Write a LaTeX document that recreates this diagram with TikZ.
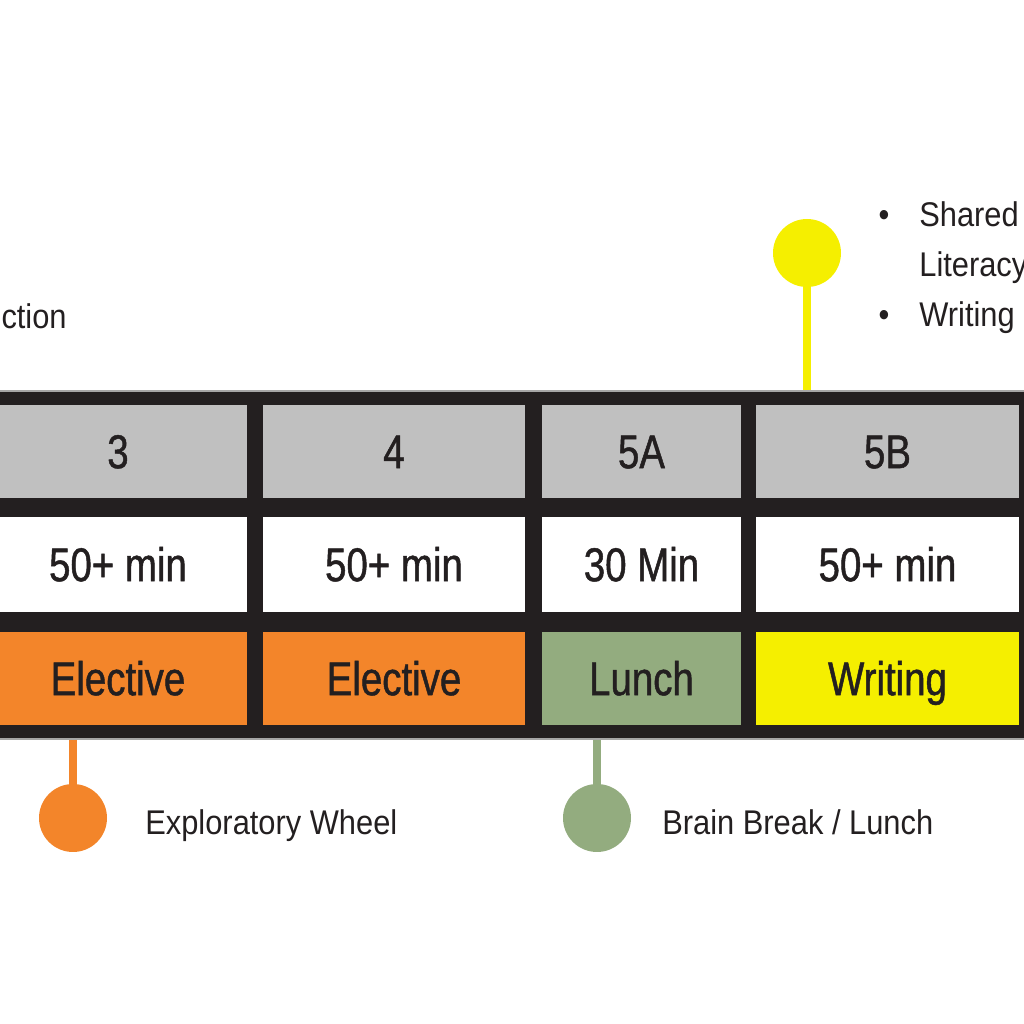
\documentclass[tikz,border=0pt]{standalone}
\usepackage{fontspec}
\setmainfont{Liberation Sans}[FakeStretch=0.81]
\newfontfamily\cellfont{Liberation Sans}[FakeStretch=0.81, FakeBold=1]
\newfontfamily\tagfont{Liberation Sans}[FakeStretch=0.9]
\usepackage{tikz}

\definecolor{ink}{HTML}{231F20}
\definecolor{cellgray}{HTML}{C0C0C0}
\definecolor{wheelorange}{HTML}{F3852A}
\definecolor{lunchgreen}{HTML}{93AC7F}
\definecolor{writeyellow}{HTML}{F5EF00}

\begin{document}
\begin{tikzpicture}
    \tikzset{
      band/.style={rectangle, fill=ink, draw=gray!70, line width=0.8pt,
        minimum width=21cm, minimum height=6.96cm, inner sep=0pt},
      cell/.style={rectangle, inner sep=0pt, text=ink, text height=19pt,
        text depth=0pt, font=\cellfont\fontsize{27}{30}\selectfont},
      hdr/.style={cell, fill=cellgray, minimum height=1.86cm},
      len/.style={cell, fill=white, minimum height=1.9cm},
      act/.style={cell, minimum height=1.86cm},
      pin/.style={circle, minimum size=1.36cm, inner sep=0pt},
      stem/.style={line width=4.5pt},
      tag/.style={anchor=base west, inner sep=0pt, text=ink,
        font=\tagfont\fontsize{19.5}{22}\selectfont}
    }

    \useasboundingbox (0,0) rectangle (20.48,20.48);
    \clip (0,0) rectangle (20.48,20.48);

    % Draw the dark band
    \node[band] (band) at (10.24,9.18) {};

    % Period numbers
    \node[hdr, minimum width=5.16cm] (h3) at (2.36,11.45) {3};
    \node[hdr, minimum width=5.24cm] (h4) at (7.88,11.45) {4};
    \node[hdr, minimum width=3.98cm] (h5a) at (12.83,11.45) {5A};
    \node[hdr, minimum width=5.26cm] (h5b) at (17.75,11.45) {5B};

    % Lengths
    \node[len, minimum width=5.16cm] (l3) at (2.36,9.19) {50+ min};
    \node[len, minimum width=5.24cm] (l4) at (7.88,9.19) {50+ min};
    \node[len, minimum width=3.98cm] (l5a) at (12.83,9.19) {30 Min};
    \node[len, minimum width=5.26cm] (l5b) at (17.75,9.19) {50+ min};

    % Activities
    \node[act, fill=wheelorange, minimum width=5.16cm] (a3) at (2.36,6.91) {Elective};
    \node[act, fill=wheelorange, minimum width=5.24cm] (a4) at (7.88,6.91) {Elective};
    \node[act, fill=lunchgreen, minimum width=3.98cm] (a5a) at (12.83,6.91) {Lunch};
    \node[act, fill=writeyellow, minimum width=5.26cm] (a5b) at (17.75,6.91) {Writing};

    % Draw the pins
    \node[pin, fill=writeyellow] (writepin) at (16.14,15.42) {};
    \node[pin, fill=wheelorange] (wheelpin) at (1.46,4.12) {};
    \node[pin, fill=lunchgreen] (lunchpin) at (11.94,4.12) {};

    \draw[stem, writeyellow] (writepin) -- (writepin |- band.north);
    \draw[stem, wheelorange] (wheelpin) -- (wheelpin |- band.south);
    \draw[stem, lunchgreen] (lunchpin) -- (lunchpin |- band.south);

    % Labels
    \node[tag] (wheeltag) at (2.90,3.78) {Exploratory Wheel};
    \node[tag] (lunchtag) at (13.24,3.78) {Brain Break / Lunch};
    \node[tag, anchor=base east] (prevtag) at (1.34,13.90) {ction};

    \node[tag, anchor=base] (dot1) at (17.68,15.94) {\textbullet};
    \node[tag] (shared) at (18.38,15.94) {Shared};
    \node[tag] (literacy) at (18.38,14.94) {Literacy};
    \node[tag, anchor=base] (dot2) at (17.68,13.94) {\textbullet};
    \node[tag] (writing) at (18.38,13.94) {Writing};
\end{tikzpicture}
\end{document}
